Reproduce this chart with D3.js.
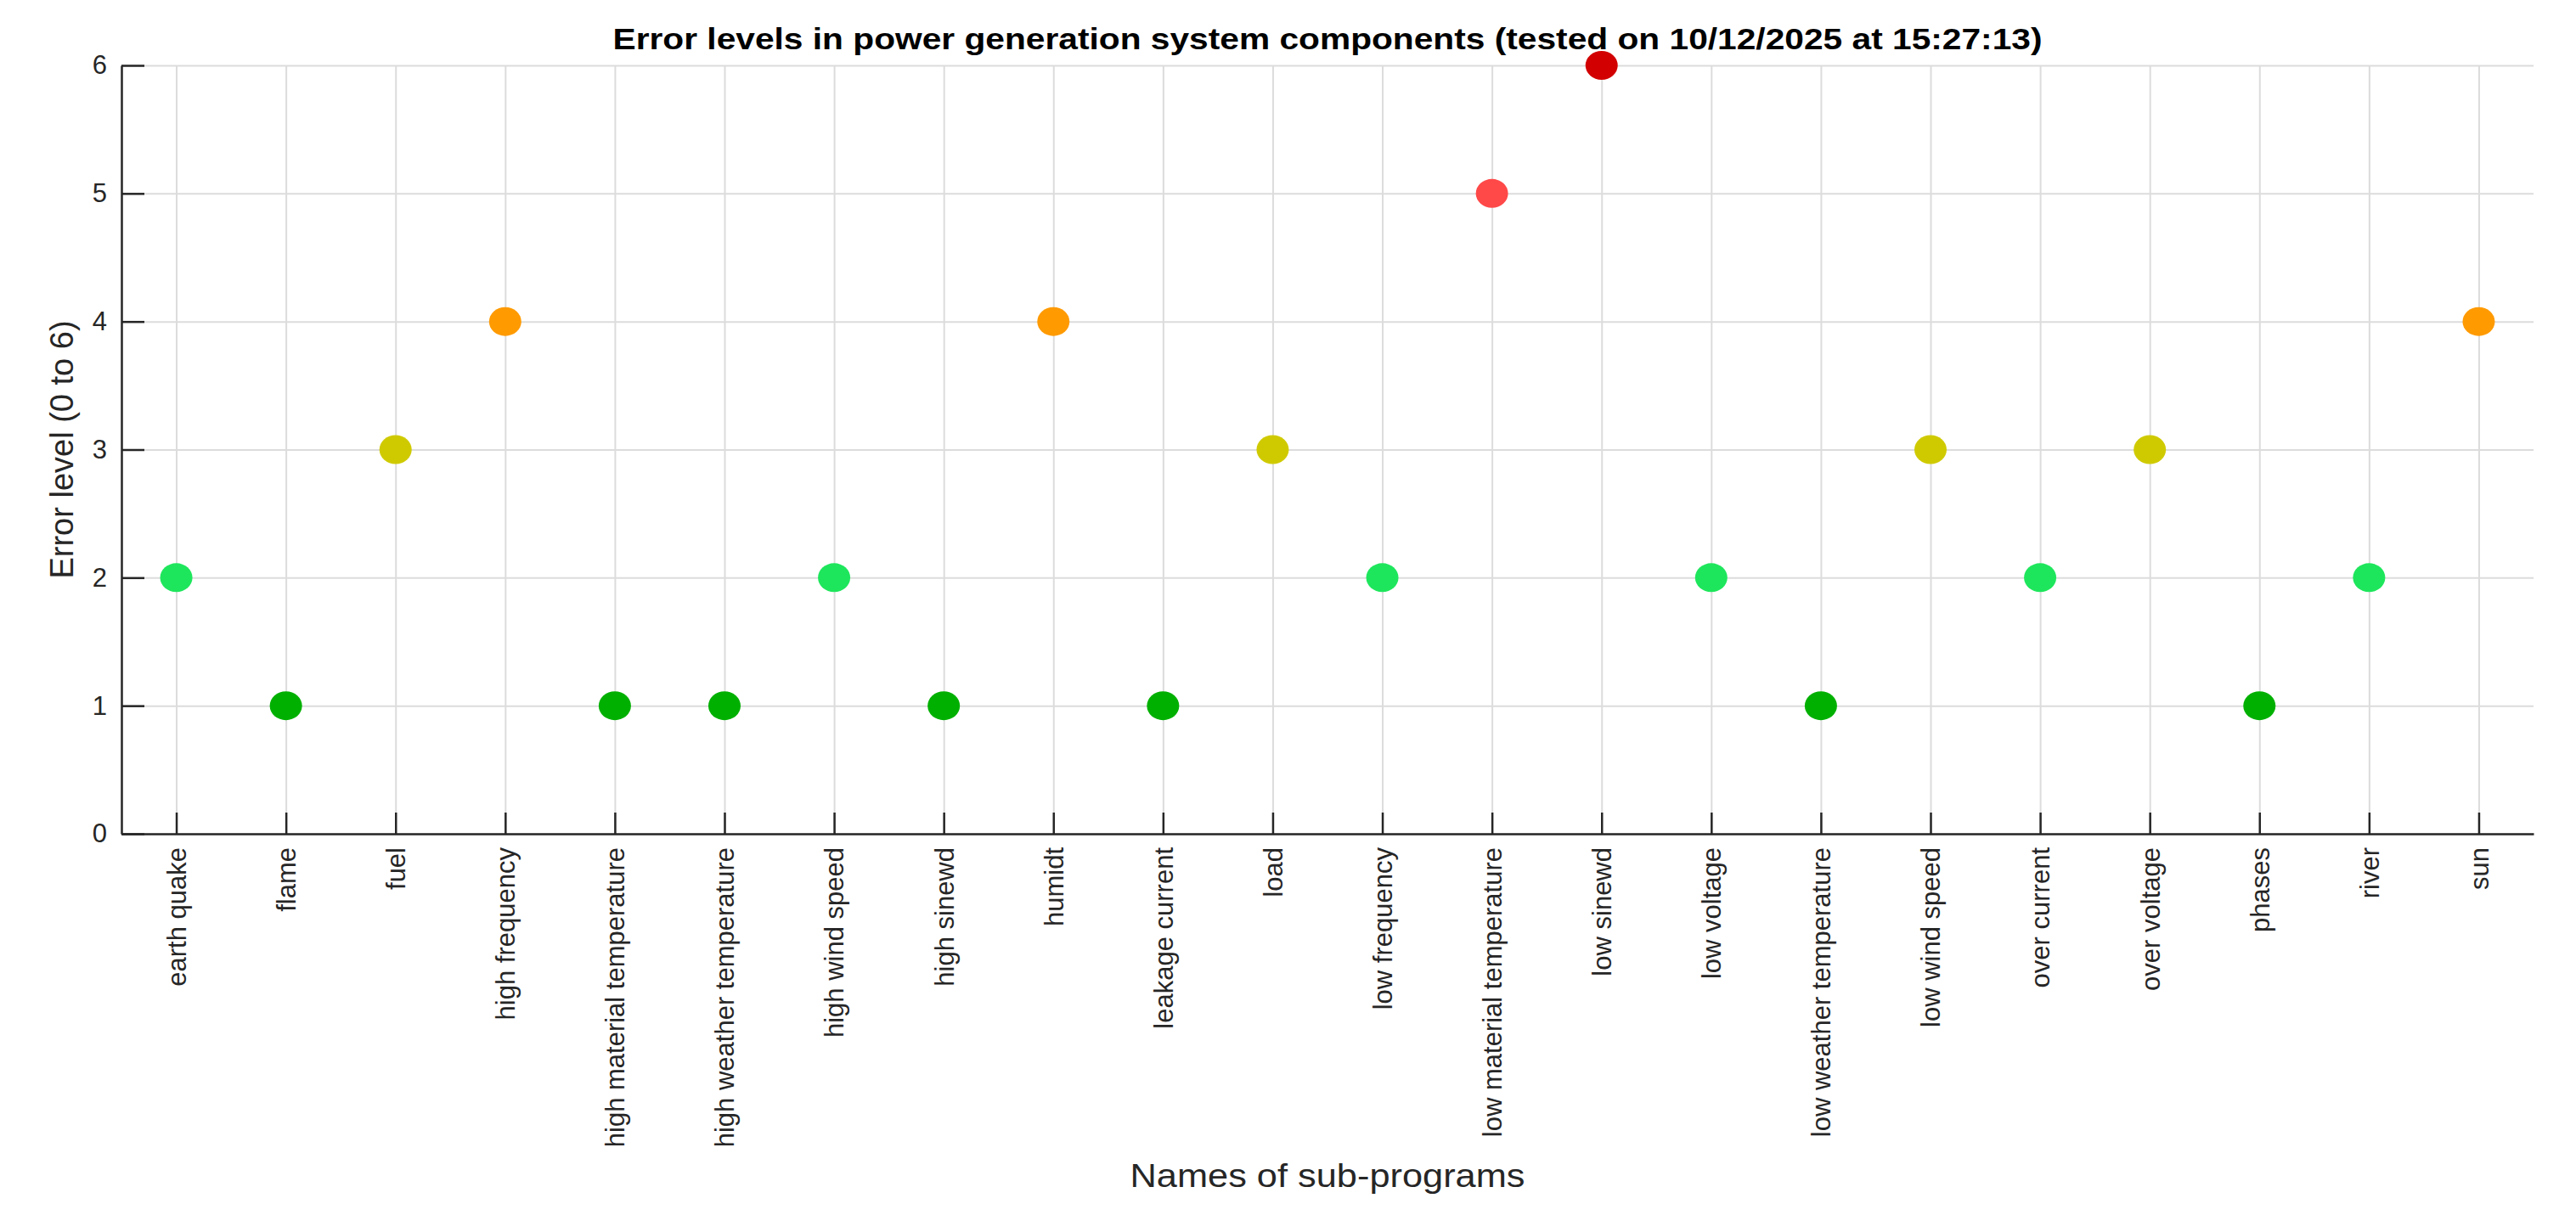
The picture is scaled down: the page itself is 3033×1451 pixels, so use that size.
<!DOCTYPE html>
<html>
<head>
<meta charset="utf-8">
<script src="https://cdn.jsdelivr.net/npm/d3@7"></script>
<style>
  body { margin: 0; background: #fff; }
  svg { display: block; font-family: "Liberation Sans", Arial, Helvetica, sans-serif; }
  .grid line { stroke: #dcdcdc; stroke-width: 2; }
  .grid .domain { display: none; }
  .axis .domain, .axis line { stroke: #262626; stroke-width: 2.5; }
  .axis text { fill: #262626; font-size: 31px; }
</style>
</head>
<body>
<svg id="chart"></svg>
<script>
// sub-program names (x categories)
var programs = ['earth quake', 'flame', 'fuel', 'high frequency', 'high material temperature',
    'high weather temperature', 'high wind speed', 'high sinewd', 'humidt', 'leakage current',
    'load', 'low frequency', 'low material temperature', 'low sinewd', 'low voltage',
    'low weather temperature', 'low wind speed', 'over current', 'over voltage', 'phases',
    'river', 'sun'];

// error level per sub-program
var errorLevels = [2, 1, 3, 4, 1, 1, 2, 1, 4, 1, 3, 2, 5, 6, 2, 1, 3, 2, 3, 1, 2, 4];

var yTicks = [0, 1, 2, 3, 4, 5, 6];
var levels = [1, 2, 3, 4, 5, 6];

var width = 3033,
    height = 1451,
    plotLeft = 143,
    plotRight = 2983,
    plotTop = 77,
    plotBottom = 982;

var svg = d3.select('#chart').attr('width', width).attr('height', height);

var x = d3.scalePoint().domain(programs).range([plotLeft, plotRight]).padding(0.5),
    y = d3.scaleLinear().domain([0, 6]).range([plotBottom, plotTop]);

// marker colour for each level, green -> red
var colorScale = d3.scaleOrdinal().domain(levels)
    .range(['#00b000', '#1ee65c', '#cfca00', '#ff9a00', '#ff4848', '#d20000']);

// grid lines
svg.append('g').attr('class', 'grid').attr('transform', 'translate(0,' + plotBottom + ')')
    .call(d3.axisBottom(x).tickSize(-(plotBottom - plotTop)).tickFormat(''));
svg.append('g').attr('class', 'grid').attr('transform', 'translate(' + plotLeft + ',0)')
    .call(d3.axisLeft(y).tickValues(yTicks).tickSize(-(plotRight - plotLeft)).tickFormat(''));

// axes, ticks pointing inward
var xAxis = svg.append('g').attr('class', 'axis').attr('transform', 'translate(0,' + plotBottom + ')')
    .call(d3.axisBottom(x).tickSizeInner(-25).tickSizeOuter(0));
xAxis.selectAll('text')
    .attr('transform', 'rotate(-90)')
    .attr('x', -16).attr('y', 0).attr('dy', '0.35em')
    .style('text-anchor', 'end');

svg.append('g').attr('class', 'axis').attr('transform', 'translate(' + plotLeft + ',0)')
    .call(d3.axisLeft(y).tickValues(yTicks).tickFormat(d3.format('d'))
        .tickSizeInner(-27).tickSizeOuter(0).tickPadding(17));

// markers
svg.append('g').selectAll('ellipse').data(programs).enter().append('ellipse')
    .attr('cx', function(d) { return x(d); })
    .attr('cy', function(d, i) { return y(errorLevels[i]); })
    .attr('rx', 19)
    .attr('ry', 17)
    .style('fill', function(d, i) { return colorScale(errorLevels[i]); });

// title and labels (reference glyphs are a bit wider, so stretch them)
svg.append('text')
    .attr('x', (plotLeft + plotRight) / 2).attr('y', 58)
    .attr('text-anchor', 'middle')
    .attr('textLength', 1683).attr('lengthAdjust', 'spacingAndGlyphs')
    .style('font-size', '35px').style('font-weight', 'bold').style('fill', '#000')
    .text('Error levels in power generation system components (tested on 10/12/2025 at 15:27:13)');

svg.append('text')
    .attr('x', (plotLeft + plotRight) / 2).attr('y', 1398)
    .attr('text-anchor', 'middle')
    .attr('textLength', 465).attr('lengthAdjust', 'spacingAndGlyphs')
    .style('font-size', '38px').style('fill', '#262626')
    .text('Names of sub-programs');

svg.append('text')
    .attr('transform', 'translate(86,' + (plotTop + plotBottom) / 2 + ') rotate(-90)')
    .attr('text-anchor', 'middle')
    .style('font-size', '38px').style('fill', '#262626')
    .text('Error level (0 to 6)');
</script>
</body>
</html>
